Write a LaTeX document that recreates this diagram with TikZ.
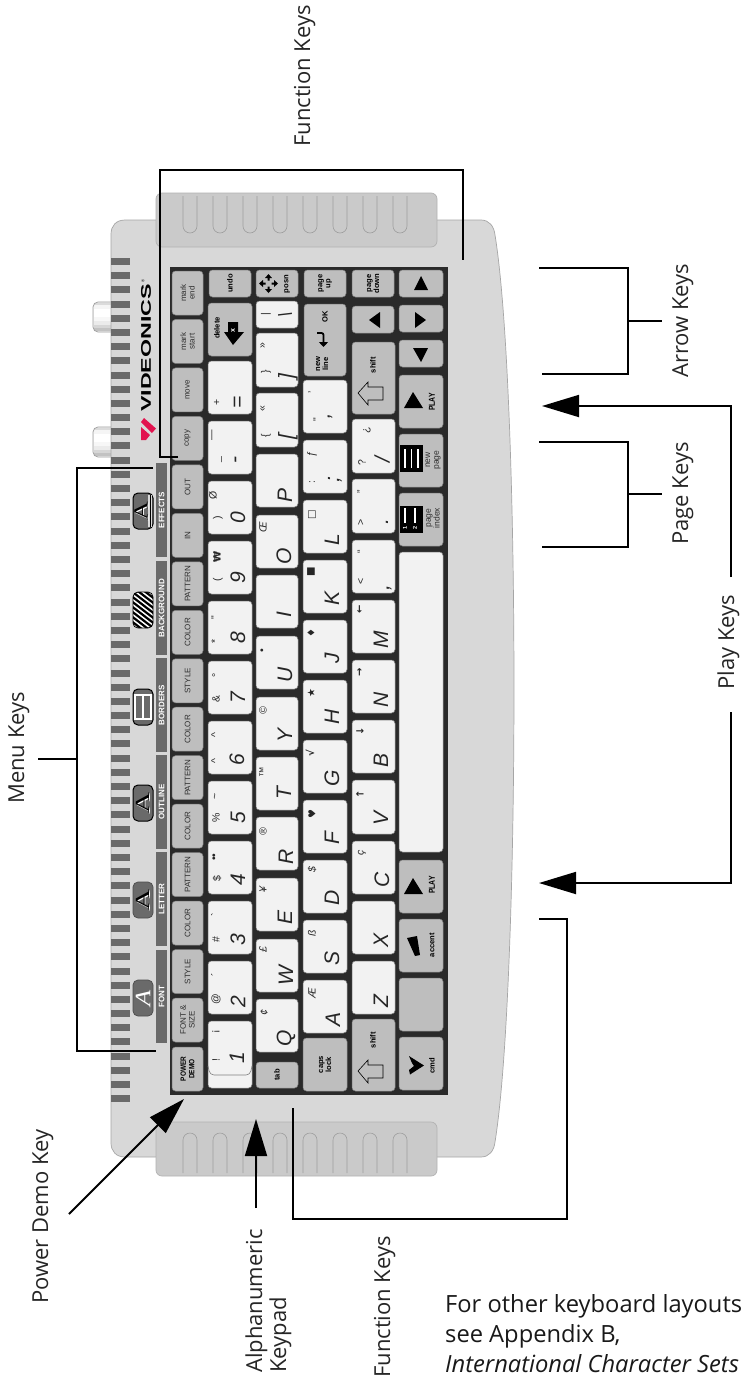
\documentclass[tikz,border=0pt]{standalone}
\usepackage{fontspec}
\setmainfont{Open Sans}
\newfontfamily\keyfont{Liberation Sans}
\newfontfamily\serfont{Liberation Serif}
\newfontfamily\symfont{DejaVu Sans}
\usetikzlibrary{arrows.meta}
\definecolor{casegray}{HTML}{D8D8D8}
\definecolor{tabgray}{HTML}{CACACA}
\definecolor{ventgray}{HTML}{6A6A6A}
\definecolor{keygray}{HTML}{BEBEBE}
\definecolor{keywhite}{HTML}{F2F2F2}
\definecolor{keybed}{HTML}{2A2A2A}
\definecolor{logored}{HTML}{E2134F}
\tikzset{kw/.style={rotate=90,draw=black!50,fill=keywhite,rounded corners=3.5pt,inner sep=0pt,line width=.5pt},
 kg/.style={kw,fill=keygray,align=center,text=black!82,font=\keyfont\fontsize{8}{8.6}\selectfont},
 kb/.style={kg,text=black,font=\keyfont\bfseries\fontsize{7.6}{8}\selectfont},
 kl/.style={rotate=90,inner sep=0pt,align=center,text=black!82,font=\keyfont\fontsize{8}{8.6}\selectfont},
 kt/.style={kl,text=black,font=\keyfont\bfseries\fontsize{7.6}{8}\selectfont},
 big/.style={rotate=90,inner sep=0pt,text=black!85,font=\keyfont\itshape\fontsize{21}{21}\selectfont},
 sm/.style={rotate=90,inner sep=0pt,text=black!85,font=\keyfont\fontsize{10.5}{11}\selectfont},
 smi/.style={sm,font=\keyfont\itshape\fontsize{10.5}{11}\selectfont},
 sy/.style={sm,font=\symfont\bfseries\fontsize{10}{11}\selectfont},
 bar/.style={rotate=90,fill=ventgray,inner sep=0pt,text=white,minimum height=11pt,font=\keyfont\bfseries\fontsize{8}{8}\selectfont},
 icon/.style={rotate=90,fill=ventgray,draw=black!70,rounded corners=5pt,minimum width=36pt,minimum height=20pt,inner sep=0pt,line width=.7pt},
 iconA/.style={rotate=90,inner sep=0pt,font=\serfont\fontsize{20}{20}\selectfont},
 lab/.style={rotate=90,inner sep=0pt,text=black!85,font=\fontsize{22}{24}\selectfont},
 note/.style={anchor=base west,inner sep=0pt,text=black!90,font=\fontsize{23.7}{23.7}\selectfont},
 wire/.style={line width=1.8pt,black},
 big arrow/.style={wire,-{Triangle[length=37pt,width=22pt]}},
 slot/.style={draw=black!38,line width=.6pt}}

\begin{document}
\begin{tikzpicture}[x=1pt,y=-1pt]
\useasboundingbox (0,0) rectangle (742,1384);
\fill[white] (0,0) rectangle (742,1384);
% plugs behind the case
\foreach \y in {302,427}{
 \fill[black!6,rounded corners=5pt] (114,\y) -- (93,\y) -- (93,\y+30) -- (114,\y+30);
 \foreach \c/\a/\b in {14/1/3,4/3/7,0/7/15,3/15/19,8/19/23,16/23/26,24/26/29}{\fill[black!\c] (94,\y+\a) rectangle (112,\y+\b);}
 \draw[black!38,line width=.7pt,rounded corners=5pt] (114,\y) -- (93,\y) -- (93,\y+30) -- (114,\y+30);}
\draw[fill=casegray,draw=black!35,line width=.7pt] (125,220) -- (481,220) .. controls (489,220) and (494,226) .. (495,235) .. controls (520.3,390) and (520.3,985) .. (495,1142) .. controls (494,1151) and (489,1157) .. (481,1157) -- (125,1157) .. controls (116,1157) and (111,1151) .. (111,1143) -- (111,234) .. controls (111,226) and (116,220) .. (125,220) -- cycle;
\foreach \i in {0,...,59}{\fill[ventgray] (111,258+\i*14.19) rectangle (130,265+\i*14.19);}
% wrist tabs
\draw[fill=tabgray,draw=black!30,rounded corners=6pt,line width=.7pt] (156,193) rectangle (437,247);
\draw[fill=tabgray,draw=black!30,rounded corners=6pt,line width=.7pt] (156,1122) rectangle (437,1176);
\foreach \x in {190,220,250,280,310,340,370,400}{
 \draw[slot] (\x-7,196) -- (\x-7,226) arc[start angle=180,end angle=360,radius=7,y radius=-7] -- (\x+7,196);
 \draw[slot] (\x-7,1173) -- (\x-7,1140) arc[start angle=180,end angle=0,radius=7,y radius=-7] -- (\x+7,1173);}
% logo
\node[rotate=90,inner sep=0pt,font=\keyfont\bfseries\fontsize{14}{14}\selectfont] (logo) at (146,348){\scalebox{1.66}[1]{VIDEONICS}};
\node[rotate=90,inner sep=0pt,font=\keyfont\fontsize{4}{4}\selectfont] (regmark) at (143,281){\textregistered};
\fill[logored] (144,418) -- (156,428.5) -- (152,433) -- (141,422) -- cycle (141,427) -- (150,435) -- (146,440) -- (141,440) -- cycle;
% menu bars and icons
\foreach \n/\ya/\yb/\lab in {font/950/1043/FONT,letter/852/946/LETTER,outline/755/849/OUTLINE,borders/658/752/BORDERS,backgr/561/655/BACKGROUND,effects/463/557/EFFECTS}{
 \node[bar,minimum width={\yb-\ya}] (\n) at (161.5,{(\ya+\yb)/2}){\lab};}
\node[icon] (fonticon) at (143,998){};
\node[iconA,text=white,font=\serfont\itshape\fontsize{22}{22}\selectfont] (fontA) at (143,998){\scalebox{1.2}[1]{A}};
\node[icon] (lettericon) at (143,900){};
\node[iconA,text=white] (letterB) at (144,901){\scalebox{1.45}[1]{A}};
\node[iconA,text=black] (letterA) at (143,900){\scalebox{1.45}[1]{A}};
\node[icon,draw=black,line width=1pt] (outlineicon) at (143,803){};
\node[iconA,text=white] (outlineB) at (144,804){\scalebox{1.45}[1]{A}};
\node[iconA,text=black] (outlineA) at (143,803){\scalebox{1.45}[1]{A}};
\node[icon,draw=black,line width=1pt] (bordericon) at (143,707){};
\draw[white,line width=1.2pt] (135,695) rectangle (151,719) (143,695) -- (143,719);
\node[icon,fill=white,draw=black,line width=.8pt] (hatchicon) at (143,610){};
\begin{scope}
\clip[rounded corners=5pt] (133,592) rectangle (153,628);
\foreach \i in {0,...,11}{\draw[black,line width=2.2pt] (130,580+\i*5) -- (156,600+\i*5);}
\end{scope}
\node[icon,fill=ventgray,draw=black,line width=1pt] (effecticon) at (143,511){};
\fill[white!85!black] (148,495) rectangle (152,527);
\draw[black,line width=.6pt] (150,495) -- (150,527);
\node[iconA,text=white] (effectB) at (142,512){\scalebox{1.3}[1]{A}};
\node[iconA,text=black] (effectA) at (141,511){\scalebox{1.3}[1]{A}};
% key bed
\fill[keybed] (170,267) rectangle (448,1095);
\foreach \lab [count=\i from 0] in {{mark\\end},{mark\\start},move,copy,OUT,IN,PATTERN,COLOR,STYLE,COLOR,PATTERN,COLOR,PATTERN,COLOR,STYLE,{FONT \&\\SIZE}}{
 \node[kg,minimum width=44pt,minimum height=31pt] (menu\i) at (187.5,293+\i*48.47){\lab};}
\node[kb,minimum width=44pt,minimum height=31pt] (power) at (187.5,1069){\scalebox{.85}[1]{\shortstack{POWER\\DEMO}}};
\foreach \n/\xa/\xb/\ya/\yb/\sty/\lab in {
 undo/209/251/270/297/kb/undo,del/208/252/303/356/kg/,equal/208/252/361/414/kw/,minus/208/252/421/474/kw/,zero/208/252/481/534/kw/,nine/208/252/541/594/kw/,eight/208/252/601/654/kw/,seven/208/252/661/714/kw/,six/208/252/721/774/kw/,five/208/252/781/834/kw/,four/208/252/841/894/kw/,three/208/252/901/954/kw/,two/208/252/961/1014/kw/,one/208/252/1021/1088/kw/,
 posn/256/298/270/297/kg/,bslash/256/298/301/328/kw/,rbrack/256/298/333/387/kw/,lbrack/256/298/393/447/kw/,keyP/256/298/454/507/kw/,keyO/256/298/515/568/kw/,keyI/256/298/575/628/kw/,keyU/256/298/636/689/kw/,keyY/256/298/697/750/kw/,keyT/256/298/757/810/kw/,keyR/256/298/817/870/kw/,keyE/256/298/878/931/kw/,keyW/256/298/939/992/kw/,keyQ/256/298/999/1052/kw/,tab/256/298/1062/1088/kb/tab,
 pageup/304/346/270/297/kb/{page\\up},newline/304/346/304/376/kg/,quote/303/347/380/433/kw/,semi/303/347/440/493/kw/,keyL/303/347/500/553/kw/,keyK/303/347/560/613/kw/,keyJ/303/347/620/673/kw/,keyH/303/347/680/733/kw/,keyG/303/347/740/793/kw/,keyF/303/347/800/853/kw/,keyD/303/347/860/913/kw/,keyS/303/347/920/973/kw/,keyA/303/347/980/1033/kw/,caps/303/347/1038/1091/kb/{caps\\lock},
 pagedown/352/394/270/297/kb/{page\\down},leftkey/352/394/306/333/kg/,shifta/352/395/342/414/kg/,slash/352/395/419/473/kw/,period/352/395/479/533/kw/,comma/352/395/540/593/kw/,keyM/352/395/600/653/kw/,keyN/352/395/660/713/kw/,keyB/352/395/720/773/kw/,keyV/352/395/780/834/kw/,keyC/352/395/841/894/kw/,keyX/352/395/901/954/kw/,keyZ/352/395/961/1014/kw/,shiftb/352/395/1019/1091/kg/,
 upkey/399/443/270/297/kg/,rightkey/399/443/305/332/kg/,downkey/399/443/340/367/kg/,playa/399/443/375/428/kg/,newpage/399/443/434/487/kg/,pageindex/399/443/493/546/kg/,space/399/443/552/852/kw/,playb/399/443/860/913/kg/,accent/399/443/919/972/kg/,blank/399/443/978/1031/kg/,cmd/399/443/1037/1090/kg/}{
 \node[\sty,minimum width={\yb-\ya},minimum height={\xb-\xa}] (\n) at ({(\xa+\xb)/2},{(\ya+\yb)/2}){\lab};}
\draw[black!50,line width=.6pt,rounded corners=4pt] (208,1066) -- (210,1075) -- (250,1075) -- (252,1066);
% key faces
\foreach \x/\y/\lab [count=\i] in {238/518/0,238/578/9,238/638/8,238/698/7,237/760/6,238/818/5,238/880/4,238/940/3,238/1002/2,237/1058/1,
 285/495/P,284/556/O,284/615/I,285/675/U,285/735/Y,284/793/T,286/857/R,285/917/E,286/976/W,286/1038/Q,
 332/540/L,332/598/K,332/658/J,332/717/H,332/778/G,332/838/F,332/898/D,332/958/S,333/1019/A,
 381/640/M,381/700/N,381/760/B,381/818/V,382/880/C,381/940/X,381/1001/Z,
 239/402/=,238/460/-,288/377/],288/437/[,382/460/{/},387/522/.,389/588/{,},335/418/’,335/480/;}{
 \node[big] (big\i) at (\x,\y){\lab};}
\node[big,font=\keyfont\itshape\fontsize{19}{19}\selectfont] (bslashmark) at (285,315){\textbackslash};
\foreach \x/\y/\lab [count=\i] in {218/518/),213/495/Ø,218/580/(,215/641/*,215/618/",216/699/\&,216/675/°,215/761/\^{},215/735/\^{},216/818/\%,216/796/\textasciitilde,217/879/\$,215/857/••,216/940/\#,215/915/`,216/999/@,215/975/´,216/1060/!,216/1032/¡,
 217/402/+,221/460/\_,213/435/—,266/372/\},266/436/\{,263/346/»,263/409/«,266/314/|,317/420/",312/392/’,312/482/:,361/581/<,361/552/“,361/522/>,361/492/”,362/463/?,367/430/¿}{
 \node[sm] (sym\i) at (\x,\y){\lab};}
\foreach \x/\y/\lab [count=\i] in {264/1013/¢,263/950/£,263/890/¥,263/832/®,263/772/™,263/711/©,263/651/•,263/527/Œ,312/993/Æ,312/933/ß,312/870/\$,362/853/ç,312/455/ƒ}{
 \node[smi] (alt\i) at (\x,\y){\lab};}
\foreach \x/\y/\lab [count=\i] in {217/557/₩,312/814/♥,310/753/√,311/693/★,311/633/♦,311/572/■,312/515/□,360/794/↑,360/731/↓,360/672/→,360/609/←}{
 \node[sy] (mark\i) at (\x,\y){\lab};}
\foreach \x/\y/\n/\lab in {217/328/dellab/delete,287/284/posnlab/posn,325/317/oklab/OK,322/364/newlab/{new\\line},373/365/shiftlaba/shift,373/1040/shiftlabb/shift,432/945/accentlab/accent,432/1066/cmdlab/cmd}{
 \node[kt] (\n) at (\x,\y){\lab};}
\foreach \y/\n in {402/playlaba,885/playlabb}{\node[kt,font=\keyfont\bfseries\fontsize{8.6}{9}\selectfont] (\n) at (432,\y){\scalebox{.8}[1]{PLAY}};}
\node[kl,font=\keyfont\fontsize{8.5}{8.8}\selectfont] (newpagelab) at (433,460){new\\page};
\node[kl,font=\keyfont\fontsize{8.5}{8.8}\selectfont] (indexlab) at (433,518){page\\index};
% glyphs on the grey keys
\fill (228,322) -- (238,322) -- (238,332) -- (244,332) -- (233,345) -- (224,332) -- (228,332) -- cycle;
\node[rotate=90,text=white,inner sep=0pt,font=\keyfont\bfseries\fontsize{7}{7}\selectfont] (delx) at (233,331){x};
\foreach \a in {0,90,180,270}{\fill[shift={(268.5,283.5)},rotate=\a] (9.5,0) -- (5.5,-3.5) -- (5.5,3.5) -- cycle (3,-1) rectangle (6,1);}
\draw[line width=1.8pt,rounded corners=2pt,-{Triangle[length=5pt,width=9pt]}] (317,333) -- (323.5,333) -- (323.5,347);
\fill (421,276) -- (414,290) -- (428,290) -- cycle (369,320) -- (380,312) -- (380,328) -- cycle (426,320) -- (415,312) -- (415,328) -- cycle (421,362) -- (413,348) -- (428,348) -- cycle;
\fill (413,392) -- (404,408) -- (423,408) -- cycle (413,878) -- (404,894) -- (423,894) -- cycle;
\foreach \y in {0,678}{\draw[fill=keygray,line width=.6pt,shift={(0,\y)}] (358,393) -- (368,382) -- (368,387) -- (383,387) -- (383,400) -- (368,400) -- (368,405) -- cycle;}
\fill (400,445) rectangle (423,472);
\draw[white,line width=1.3pt] (405,449) -- (405,468) (411.5,449) -- (411.5,468) (418,449) -- (418,468);
\fill (400,506) rectangle (423,533);
\draw[white,line width=1.3pt] (405,508) -- (405,523) (415,508) -- (415,523);
\node[rotate=90,text=white,inner sep=0pt,font=\keyfont\bfseries\fontsize{5.5}{5.5}\selectfont] (idx1) at (405,528){1};
\node[rotate=90,text=white,inner sep=0pt,font=\keyfont\bfseries\fontsize{5.5}{5.5}\selectfont] (idx2) at (415,528){2};
\fill (407,938) -- (417,936) -- (420,955) -- (415,956) -- cycle;
\fill (409,1056) -- (424,1065.5) -- (410,1074.5) -- (409,1070) -- (414,1066) -- (412,1063) -- cycle;
% callouts
\node[lab,anchor=base west] (fntop) at (310,147){Function Keys};
\node[lab,anchor=base west] (fnbot) at (390,1378){Function Keys};
\node[lab,anchor=base west] (arrowlab) at (688,378){Arrow Keys};
\node[lab,anchor=base west] (pagelab) at (688,545){Page Keys};
\node[lab,anchor=base west] (playlab) at (734,690){Play Keys};
\node[lab,anchor=base west] (menulab) at (24,804){Menu Keys};
\node[lab,anchor=base east] (powerlab) at (48,1129){Power Demo Key};
\node[lab,anchor=base west,align=left] (alphalab) at (286,1373){Alphanumeric\\Keypad};
\coordinate (ft1) at (178,457);\coordinate (ft2) at (160,457);\coordinate (ft3) at (160,170);\coordinate (ft4) at (463,170);\coordinate (ft5) at (463,260);
\draw[wire] (ft1) -- (ft2) -- (ft3) -- (ft4) -- (ft5);
\coordinate (fb1) at (293,1108);\coordinate (fb2) at (293,1219);\coordinate (fb3) at (567,1219);\coordinate (fb4) at (567,919);\coordinate (fb5) at (539,919);
\draw[wire] (fb1) -- (fb2) -- (fb3) -- (fb4) -- (fb5);
\coordinate (m1) at (153,468);\coordinate (m2) at (77,468);\coordinate (m3) at (77,1051);\coordinate (m4) at (156,1051);\coordinate (m5) at (38,759);\coordinate (m6) at (77,759);
\draw[wire] (m1) -- (m2) -- (m3) -- (m4);\draw[wire] (m5) -- (m6);
\coordinate (a1) at (539,268);\coordinate (a2) at (628,268);\coordinate (a3) at (628,374);\coordinate (a4) at (542,374);\coordinate (a5) at (628,321);\coordinate (a6) at (662,321);
\draw[wire] (a1) -- (a2) -- (a3) -- (a4);\draw[wire] (a5) -- (a6);
\coordinate (p1) at (539,442);\coordinate (p2) at (628,442);\coordinate (p3) at (628,547);\coordinate (p4) at (542,547);\coordinate (p5) at (628,494);\coordinate (p6) at (662,494);
\draw[wire] (p1) -- (p2) -- (p3) -- (p4);\draw[wire] (p5) -- (p6);
\coordinate (pl1) at (731,577);\coordinate (pl2) at (731,406);\coordinate (pl3) at (542,406);\coordinate (pl4) at (731,712);\coordinate (pl5) at (731,883);\coordinate (pl6) at (539,883);
\draw[big arrow] (pl1) -- (pl2) -- (pl3);\draw[big arrow] (pl4) -- (pl5) -- (pl6);
\coordinate (pw1) at (69,1214);\coordinate (pw2) at (184,1099);\draw[big arrow] (pw1) -- (pw2);
\coordinate (an1) at (256,1208);\coordinate (an2) at (256,1119);\draw[big arrow] (an1) -- (an2);
% note
\node[note] (note1) at (445,1312){For other keyboard layouts};
\node[note] (note2) at (445,1342){see Appendix B,};
\node[note,font=\itshape\fontsize{23.7}{23.7}\selectfont] (note3) at (445,1372){International Character Sets};
\end{tikzpicture}
\end{document}
